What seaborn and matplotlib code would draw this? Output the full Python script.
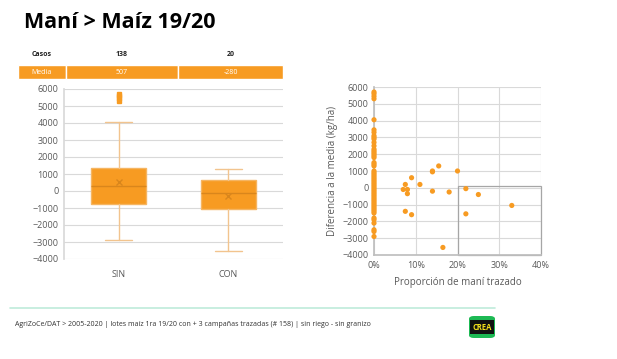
import matplotlib
matplotlib.use("Agg")
import matplotlib.pyplot as plt
from matplotlib.patches import Rectangle, FancyBboxPatch
from matplotlib.ticker import PercentFormatter
import seaborn as sns
import pandas as pd

# boxplot summary (kg/ha)
grupos = ["SIN", "CON"]
casos = [138, 20]
medias = [507, -280]
medianas = [300, -100]
q1 = [-750, -1050]
q3 = [1380, 650]
bigote_min = [-2900, -3550]
bigote_max = [4050, 1300]
atipicos = [[5300, 5450, 5600, 5700], []]

# scatter: lotes sin mani trazado (x = 0)
y_sin = [5700, 5600, 5450, 5300, 4050, 3450, 3300, 3100, 3000, 2900, 2700, 2500,
         2300, 2200, 2100, 2000, 1900, 1800, 1500, 1400, 1300, 1000, 900, 800, 700,
         600, 500, 400, 300, 200, 100, 0, -100, -200, -300, -400, -500, -600, -700,
         -800, -900, -1000, -1100, -1200, -1300, -1400, -1500, -1800, -1900, -2100,
         -2500, -2600, -2900]
# lotes con mani trazado
x_con = [0.07, 0.075, 0.08, 0.08, 0.09, 0.075, 0.09, 0.11, 0.14, 0.14, 0.14,
         0.155, 0.165, 0.18, 0.20, 0.22, 0.22, 0.25, 0.33]
y_con = [-100, 200, -100, -350, 600, -1400, -1600, 200, 1000, 950, -200,
         1300, -3550, -250, 1000, -50, -1550, -400, -1050]

naranja = "#F79B22"
gris_txt = "#595959"
grilla = "#D9D9D9"

sns.set_theme(style="white")
plt.rcParams["font.family"] = ["Open Sans", "DejaVu Sans"]

fig = plt.figure(figsize=(6.17, 3.59), dpi=100)
fig.patch.set_facecolor("white")

fig.text(24 / 617, 1 - 22 / 359, "Maní > Maíz 19/20", fontsize=15.5, fontweight="bold",
         color="black", va="center", ha="left")

# table
W, H = 617, 359
cols = [(18, 66), (66, 178), (178, 283)]
fila1 = ["Casos"] + [str(c) for c in casos]
fila2 = ["Media"] + [str(m) for m in medias]
for (x0, x1), t1, t2 in zip(cols, fila1, fila2):
    fig.text((x0 + x1) / 2 / W, 1 - 55 / H, t1, fontsize=5, fontweight="bold",
             ha="center", va="center", color="#222222")
    fig.patches.append(Rectangle((x0 / W, 1 - 79 / H), (x1 - x0) / W, 14 / H,
                                 transform=fig.transFigure, facecolor=naranja,
                                 edgecolor="white", linewidth=1))
    fig.text((x0 + x1) / 2 / W, 1 - 72 / H, t2, fontsize=5,
             ha="center", va="center", color="white")

# boxplot
ax1 = fig.add_axes([64 / W, 1 - 259 / H, 219 / W, 170 / H])
stats = []
for i, g in enumerate(grupos):
    stats.append(dict(label=g, med=medianas[i], q1=q1[i], q3=q3[i],
                      whislo=bigote_min[i], whishi=bigote_max[i],
                      mean=medias[i], fliers=atipicos[i]))
ax1.bxp(stats, positions=[0, 1], widths=0.5, showmeans=True, patch_artist=True,
        boxprops=dict(facecolor=naranja, edgecolor="#F5B562", linewidth=1),
        medianprops=dict(color="#D9861C", linewidth=1),
        whiskerprops=dict(color="#F2C48E", linewidth=1),
        capprops=dict(color="#F2C48E", linewidth=1),
        meanprops=dict(marker="x", markeredgecolor="#D9861C", markersize=5),
        flierprops=dict(marker="s", markerfacecolor=naranja, markeredgecolor=naranja,
                        markersize=2.2))
ax1.set_xlim(-0.5, 1.5)
ax1.set_ylim(-4000, 6000)
ax1.set_yticks(range(-4000, 6001, 1000))
ax1.yaxis.grid(True, color=grilla, linewidth=0.8)
ax1.set_axisbelow(True)
for s in ["top", "right", "bottom"]:
    ax1.spines[s].set_visible(False)
ax1.spines["left"].set_color(grilla)
ax1.tick_params(axis="both", labelsize=6.5, colors=gris_txt, length=0, pad=4)
ax1.tick_params(axis="x", pad=8)

# scatter
ax2 = fig.add_axes([374 / W, 1 - 255 / H, 167 / W, 168 / H])
df = pd.DataFrame({"x": [0.0] * len(y_sin) + x_con, "y": y_sin + y_con})
sns.scatterplot(data=df, x="x", y="y", ax=ax2, color=naranja, s=14,
                edgecolor="none", clip_on=False, zorder=3)
ax2.add_patch(Rectangle((0.20, -4000), 0.20, 4100, facecolor="none",
                        edgecolor="#A6A6A6", linewidth=0.9, zorder=2, clip_on=False))
ax2.set_xlim(0, 0.4)
ax2.set_ylim(-4000, 6000)
ax2.set_xticks([0, 0.1, 0.2, 0.3, 0.4])
ax2.set_yticks(range(-4000, 6001, 1000))
ax2.xaxis.set_major_formatter(PercentFormatter(1.0, decimals=0))
ax2.grid(True, color=grilla, linewidth=0.8)
ax2.set_axisbelow(True)
for s in ["top", "right"]:
    ax2.spines[s].set_visible(False)
ax2.spines["left"].set_color("#BFBFBF")
ax2.spines["bottom"].set_color("#BFBFBF")
ax2.tick_params(axis="both", labelsize=6.5, colors=gris_txt, length=0, pad=4)
ax2.set_xlabel("Proporción de maní trazado", fontsize=7, color=gris_txt, labelpad=5)
ax2.set_ylabel("Diferencia a la media (kg/ha)", fontsize=7, color=gris_txt, labelpad=3)

# footer
fig.add_artist(plt.Line2D([10 / W, 495 / W], [1 - 308 / H, 1 - 308 / H],
                          color="#BFEBDA", linewidth=1.2))
fig.text(15 / W, 1 - 325 / H,
         "AgriZoCe/DAT > 2005-2020 | lotes maíz 1ra 19/20 con + 3 campañas trazadas (# 158) | sin riego - sin granizo",
         fontsize=5, color="#333333", va="center", ha="left")
fig.patches.append(FancyBboxPatch((469 / W, 1 - 338 / H), 26 / W, 22 / H,
                                  boxstyle="round,pad=0,rounding_size=0.008",
                                  transform=fig.transFigure, facecolor="#1DB954",
                                  edgecolor="none"))
fig.patches.append(Rectangle((470 / W, 1 - 334 / H), 24 / W, 14 / H,
                             transform=fig.transFigure, facecolor="#111111",
                             edgecolor="none"))
fig.text(482 / W, 1 - 327 / H, "CREA", fontsize=5.5, fontweight="bold",
         color="#F5E11B", ha="center", va="center")

fig.savefig("out.png", dpi=100)
